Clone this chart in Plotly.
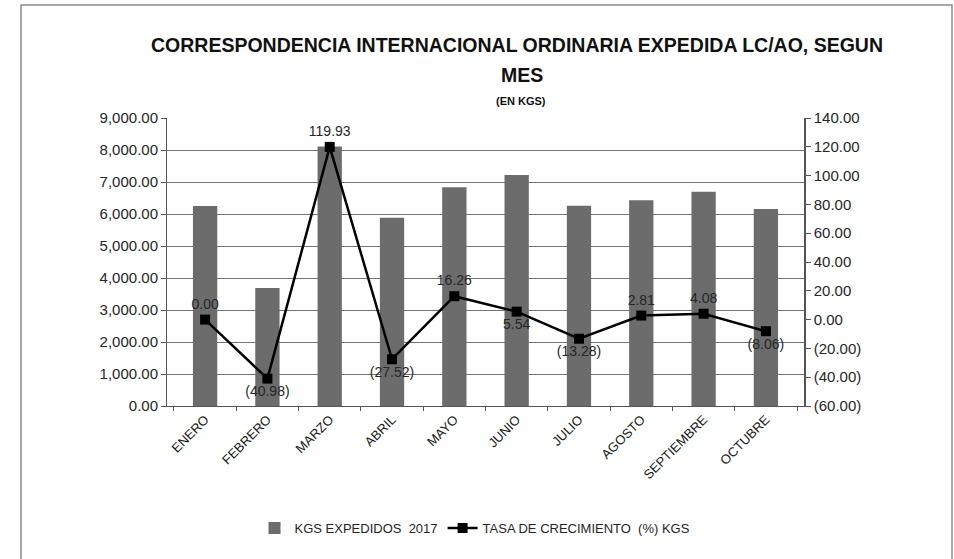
import plotly.graph_objects as go

meses = ["ENERO", "FEBRERO", "MARZO", "ABRIL", "MAYO", "JUNIO", "JULIO",
         "AGOSTO", "SEPTIEMBRE", "OCTUBRE"]
kgs_2017 = [6250, 3689, 8113, 5880, 6836, 7215, 6257, 6433, 6695, 6156]
tasa = [0.00, -40.98, 119.93, -27.52, 16.26, 5.54, -13.28, 2.81, 4.08, -8.06]
label_pos = ["top center", "bottom center", "top center", "bottom center", "top center",
             "bottom center", "bottom center", "top center", "top center", "bottom center"]
right_ticks = [-60, -40, -20, 0, 20, 40, 60, 80, 100, 120, 140]
right_ticktext = ["(60.00)", "(40.00)", "(20.00)", "0.00", "20.00", "40.00", "60.00",
                  "80.00", "100.00", "120.00", "140.00"]


def fmt(v):
    return f"{v:,.2f}" if v >= 0 else f"({abs(v):,.2f})"


W, H = 954, 559
L, R, T, B = 167, 150, 118, 153
PW, PH = W - L - R, H - T - B


def px(x):
    return (x - L) / PW


def py(y):
    return (H - B - y) / PH


FONT = "Liberation Sans, Arial, sans-serif"
TXT = "#262626"

fig = go.Figure()
fig.add_trace(go.Bar(
    x=meses, y=kgs_2017, name="KGS EXPEDIDOS  2017",
    marker=dict(color="#6c6c6c", line=dict(width=0)),
    yaxis="y",
))
fig.add_trace(go.Scatter(
    x=meses, y=tasa, name="TASA DE CRECIMIENTO  (%) KGS",
    mode="lines+markers+text",
    line=dict(color="#000000", width=2.5),
    marker=dict(symbol="square", size=10, color="#000000"),
    text=[fmt(v) for v in tasa], textposition=label_pos,
    textfont=dict(family=FONT, size=14, color=TXT),
    yaxis="y2", cliponaxis=False,
))

fig.update_layout(
    width=W, height=H,
    margin=dict(l=L, r=R, t=T, b=B, autoexpand=False),
    paper_bgcolor="white", plot_bgcolor="white",
    font=dict(family=FONT, size=14, color=TXT),
    bargap=0.61,
    showlegend=True,
    legend=dict(orientation="h", x=px(475), xanchor="center", y=py(528), yanchor="middle",
                font=dict(family=FONT, size=13, color=TXT), itemwidth=30,
                tracegroupgap=0, bgcolor="rgba(0,0,0,0)"),
    xaxis=dict(
        type="category", tickangle=-45, showgrid=False,
        showline=True, linecolor="#555555", linewidth=1,
        ticks="outside", tickson="boundaries", ticklen=4, tickcolor="#555555",
        tickfont=dict(family=FONT, size=13, color="#1a1a1a"),
    ),
    yaxis=dict(
        range=[0, 9000], dtick=1000, tickformat=",.2f",
        showgrid=True, gridcolor="#737373", gridwidth=1,
        showline=True, linecolor="#555555", linewidth=1,
        ticks="outside", ticklen=5, tickcolor="#555555",
        tickfont=dict(family=FONT, size=15, color=TXT), zeroline=False,
    ),
    yaxis2=dict(
        range=[-60, 140], overlaying="y", side="right",
        tickvals=right_ticks, ticktext=right_ticktext,
        showgrid=False, zeroline=False,
        showline=True, linecolor="#555555", linewidth=1.5,
        ticks="outside", ticklen=5, tickcolor="#555555",
        tickfont=dict(family=FONT, size=15, color=TXT),
    ),
    shapes=[dict(type="rect", xref="paper", yref="paper",
                 x0=px(21), x1=px(952), y0=py(565), y1=py(5),
                 line=dict(color="#8a8a98", width=1.5), fillcolor="rgba(0,0,0,0)",
                 layer="below")],
    annotations=[
        dict(text="<b>CORRESPONDENCIA INTERNACIONAL ORDINARIA EXPEDIDA LC/AO, SEGUN</b>",
             x=px(517), y=py(32), xref="paper", yref="paper", showarrow=False,
             font=dict(family=FONT, size=19.5, color="#111111")),
        dict(text="<b>MES</b>", x=px(522), y=py(62), xref="paper", yref="paper",
             showarrow=False, font=dict(family=FONT, size=19.5, color="#111111")),
        dict(text="<b>(EN KGS)</b>", x=px(521), y=py(93), xref="paper", yref="paper",
             showarrow=False, font=dict(family=FONT, size=11, color="#111111")),
    ],
)

fig.write_html("out.html", config={"displayModeBar": False},
               post_script="document.body.style.margin='0';")
